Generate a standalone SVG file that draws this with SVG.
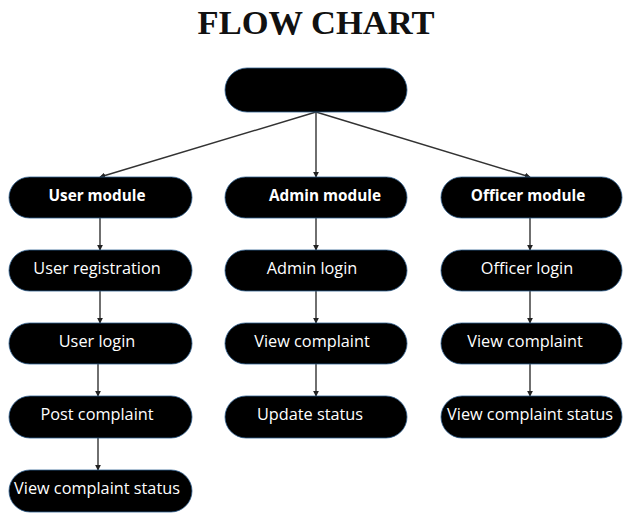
<svg xmlns="http://www.w3.org/2000/svg" width="624" height="516" viewBox="0 0 624 516">
  <defs>
    <marker id="arrow" viewBox="0 0 8 8" refX="7" refY="4" markerWidth="6" markerHeight="6" orient="auto" markerUnits="userSpaceOnUse">
      <path d="M0,0 L8,4 L0,8 z" fill="#222"/>
    </marker>
    <style>
      .node { fill: #000; stroke: #2f5f8f; stroke-width: 0.8; }
      .label { font-family: "Open Sans", "Noto Sans", sans-serif; font-size: 16.3px; fill: #fff; text-anchor: middle; }
      .bold { font-weight: bold; font-size: 15.3px; }
      .edge { stroke: #333; stroke-width: 1.4; fill: none; marker-end: url(#arrow); }
      .title { font-family: "Liberation Serif", serif; font-size: 34.5px; font-weight: bold; fill: #111; text-anchor: middle; }
    </style>
  </defs>
  <rect width="624" height="516" fill="#fff"/>

  <text class="title" x="316" y="34">FLOW CHART</text>

  <g id="connectors">
    <line class="edge" x1="316" y1="112" x2="100" y2="177"/>
    <line class="edge" x1="316" y1="112" x2="316" y2="177"/>
    <line class="edge" x1="316" y1="112" x2="530" y2="177"/>

    <line class="edge" x1="100" y1="218" x2="100" y2="250"/>
    <line class="edge" x1="100" y1="291" x2="100" y2="323"/>
    <line class="edge" x1="98" y1="364" x2="98" y2="396"/>
    <line class="edge" x1="98" y1="438" x2="98" y2="470"/>

    <line class="edge" x1="316" y1="218" x2="316" y2="250"/>
    <line class="edge" x1="316" y1="291" x2="316" y2="323"/>
    <line class="edge" x1="316" y1="364" x2="316" y2="396"/>

    <line class="edge" x1="530" y1="218" x2="530" y2="250"/>
    <line class="edge" x1="530" y1="291" x2="530" y2="323"/>
    <line class="edge" x1="530" y1="364" x2="530" y2="396"/>
  </g>

  <g id="root">
    <rect class="node" x="225" y="68" width="182" height="44" rx="22"/>
  </g>

  <g id="user-module">
    <rect class="node" x="9" y="177" width="183" height="41" rx="20.5"/>
    <text class="label bold" x="97" y="201">User module</text>
  </g>
  <g id="user-registration">
    <rect class="node" x="9" y="250" width="183" height="41" rx="20.5"/>
    <text class="label" x="97" y="274">User registration</text>
  </g>
  <g id="user-login">
    <rect class="node" x="9" y="323" width="183" height="41" rx="20.5"/>
    <text class="label" x="97" y="347">User login</text>
  </g>
  <g id="post-complaint">
    <rect class="node" x="9" y="396" width="183" height="42" rx="21"/>
    <text class="label" x="97" y="420">Post complaint</text>
  </g>
  <g id="user-view-status">
    <rect class="node" x="9" y="470" width="183" height="42" rx="21"/>
    <text class="label" x="97" y="494">View complaint status</text>
  </g>

  <g id="admin-module">
    <rect class="node" x="225" y="177" width="182" height="41" rx="20.5"/>
    <text class="label bold" x="325" y="201">Admin module</text>
  </g>
  <g id="admin-login">
    <rect class="node" x="225" y="250" width="182" height="41" rx="20.5"/>
    <text class="label" x="312" y="274">Admin login</text>
  </g>
  <g id="admin-view-complaint">
    <rect class="node" x="225" y="323" width="182" height="41" rx="20.5"/>
    <text class="label" x="312" y="347">View complaint</text>
  </g>
  <g id="update-status">
    <rect class="node" x="225" y="396" width="182" height="42" rx="21"/>
    <text class="label" x="310" y="420">Update status</text>
  </g>

  <g id="officer-module">
    <rect class="node" x="441" y="177" width="181" height="41" rx="20.5"/>
    <text class="label bold" x="528" y="201">Officer module</text>
  </g>
  <g id="officer-login">
    <rect class="node" x="441" y="250" width="181" height="41" rx="20.5"/>
    <text class="label" x="527" y="274">Officer login</text>
  </g>
  <g id="officer-view-complaint">
    <rect class="node" x="441" y="323" width="181" height="41" rx="20.5"/>
    <text class="label" x="525" y="347">View complaint</text>
  </g>
  <g id="officer-view-status">
    <rect class="node" x="441" y="396" width="181" height="42" rx="21"/>
    <text class="label" x="530" y="420">View complaint status</text>
  </g>
</svg>
